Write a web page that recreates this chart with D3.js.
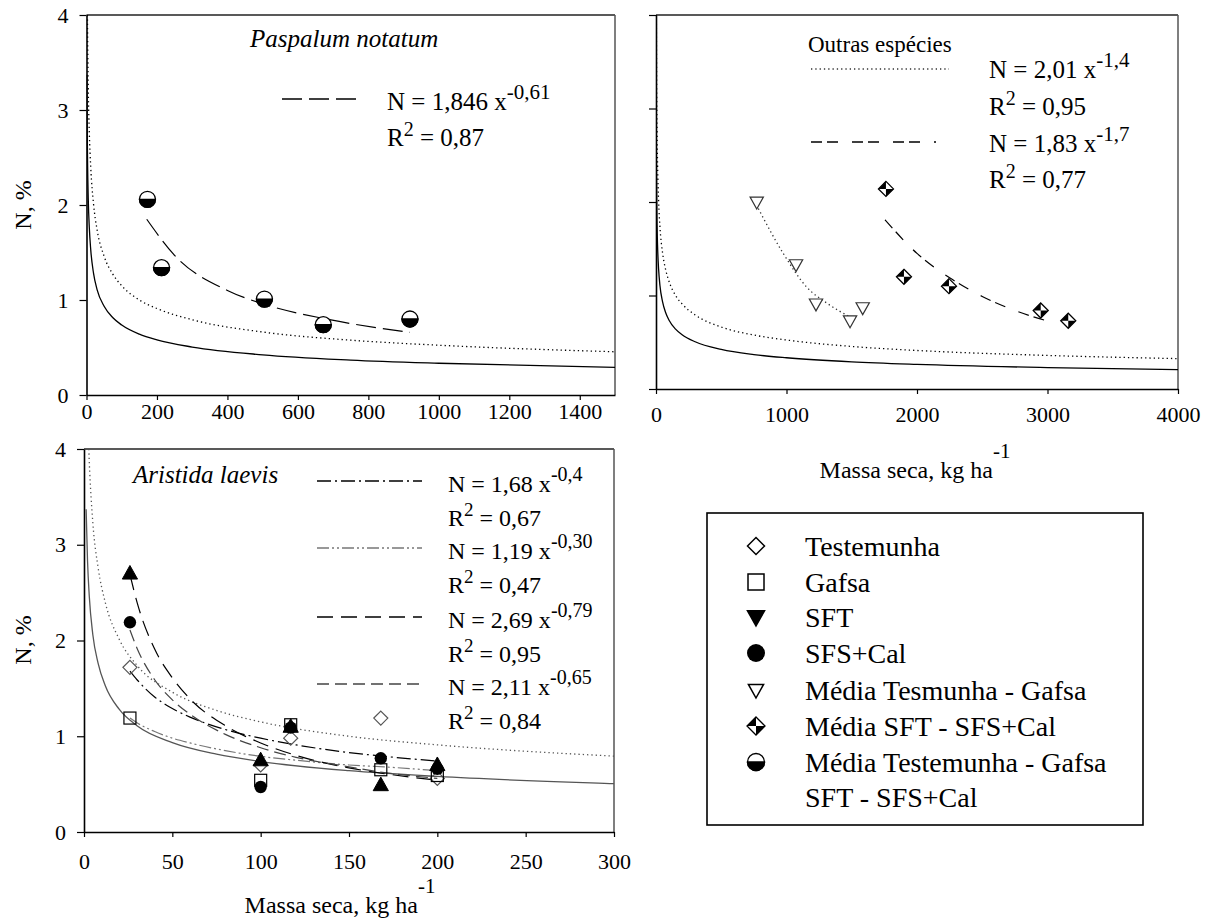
<!DOCTYPE html>
<html><head><meta charset="utf-8">
<script src="https://cdn.jsdelivr.net/npm/d3@7"></script>
<style>
body{margin:0;background:#fff;}
</style></head><body>
<svg id="c" width="1210" height="924"></svg>
<script>
// ---------- DATA ----------
const yTicks = [0, 1, 2, 3, 4];
const xTicksPaspalum = [0, 200, 400, 600, 800, 1000, 1200, 1400];
const xTicksOutras = [0, 1000, 2000, 3000, 4000];
const xTicksAristida = [0, 50, 100, 150, 200, 250, 300];

// reference curves (solid and dotted)
const refSolidX = [1.2, 2, 3, 5, 8, 12, 20, 30, 50, 75, 100, 150, 200, 300, 500, 750, 1000, 1500, 2000, 3000, 4000];
const refSolidN = [3.37, 2.83, 2.46, 2.06, 1.76, 1.53, 1.28, 1.11, 0.934, 0.813, 0.736, 0.640, 0.580, 0.505, 0.423, 0.368, 0.334, 0.290, 0.263, 0.229, 0.207];
const refDotX = [2.7, 3, 5, 8, 12, 20, 30, 50, 75, 100, 150, 200, 300, 500, 750, 1000, 1500, 2000, 3000, 4000];
const refDotN = [4.0, 3.86, 3.23, 2.76, 2.40, 2.01, 1.74, 1.46, 1.27, 1.15, 1.00, 0.91, 0.792, 0.663, 0.577, 0.524, 0.455, 0.412, 0.359, 0.325];

// Paspalum notatum
const paspalumX = [173, 213, 505, 672, 918];
const paspalumN = [2.06, 1.34, 1.01, 0.74, 0.80];
const paspalumFitX = [171, 250, 400, 500, 680, 918];
const paspalumFitN = [1.85, 1.47, 1.10, 0.96, 0.80, 0.66];

// Outras espécies
const outrasTriX = [772, 1073, 1226, 1487, 1584];
const outrasTriN = [2.00, 1.33, 0.91, 0.73, 0.87];
const outrasDiaX = [1762, 1900, 2245, 2948, 3159];
const outrasDiaN = [2.14, 1.20, 1.10, 0.84, 0.73];
const outrasFit1X = [784, 975, 1155, 1308, 1487];
const outrasFit1N = [1.93, 1.45, 1.09, 0.92, 0.77];
const outrasFit2X = [1755, 2000, 2250, 2500, 2750, 3070];
const outrasFit2N = [1.81, 1.45, 1.19, 0.99, 0.84, 0.70];

// Aristida laevis
const aristidaX = [26, 100, 117, 168, 200];
const testemunhaN = [1.72, 0.70, 0.98, 1.19, 0.56];
const gafsaN = [1.19, 0.54, 1.12, 0.65, 0.59];
const sftN = [2.70, 0.75, 1.10, 0.49, 0.70];
const sfsN = [2.19, 0.47, 1.09, 0.77, 0.66];
const aristidaFitX = [26, 30, 40, 50, 60, 80, 100, 120, 150, 170, 200];
const fitTestemunhaN = [1.68, 1.59, 1.41, 1.29, 1.20, 1.07, 0.98, 0.91, 0.83, 0.79, 0.74];
const fitGafsaN = [1.19, 1.14, 1.05, 0.98, 0.93, 0.85, 0.79, 0.75, 0.70, 0.68, 0.64];
const fitSftN = [2.69, 2.40, 1.91, 1.61, 1.39, 1.11, 0.93, 0.80, 0.67, 0.61, 0.54];
const fitSfsN = [2.11, 1.92, 1.59, 1.38, 1.23, 1.02, 0.88, 0.78, 0.68, 0.62, 0.56];

// equations
const paspalumCoef = ["1,846"], paspalumExp = ["-0,61"], paspalumR2 = ["0,87"];
const outrasCoef = ["2,01", "1,83"], outrasExp = ["-1,4", "-1,7"], outrasR2 = ["0,95", "0,77"];
const aristidaCoef = ["1,68", "1,19", "2,69", "2,11"], aristidaExp = ["-0,4", "-0,30", "-0,79", "-0,65"], aristidaR2 = ["0,67", "0,47", "0,95", "0,84"];

// legend
const legendLabels = ["Testemunha", "Gafsa", "SFT", "SFS+Cal", "Média Tesmunha - Gafsa", "Média SFT - SFS+Cal", "Média Testemunha - Gafsa"];
const legendExtra = "SFT - SFS+Cal";
const titles = ["Paspalum notatum", "Outras espécies", "Aristida laevis"];
const yTitle = "N, %";
const xTitle = "Massa seca, kg ha";

// ---------- DRAW ----------
const FONT = '"Liberation Serif"';
const svg = d3.select("#c");
const zip = (a, b) => a.map((v, i) => [v, b[i]]);
function T(sel) { return sel.style("font-family", FONT).attr("fill", "#000").style("white-space", "pre"); }

function symbol(g, type, cx, cy, s, opt = {}) {
  const gg = g.append("g").attr("transform", `translate(${cx},${cy})`);
  const sw = opt.sw || 1.2, col = opt.col || "#000";
  if (type === "diamond") {
    gg.append("path").attr("d", `M0,${-s}L${s},0L0,${s}L${-s},0Z`).attr("fill", "none").attr("stroke", col).attr("stroke-width", sw);
  } else if (type === "square") {
    gg.append("rect").attr("x", -s).attr("y", -s).attr("width", 2 * s).attr("height", 2 * s).attr("fill", "none").attr("stroke", col).attr("stroke-width", sw);
  } else if (type === "triUp") {
    gg.append("path").attr("d", `M0,${-s}L${s * 0.95},${s * 0.7}L${-s * 0.95},${s * 0.7}Z`).attr("fill", col).attr("stroke", col).attr("stroke-width", 1);
  } else if (type === "triDown") {
    gg.append("path").attr("d", `M0,${s}L${s * 0.95},${-s * 0.7}L${-s * 0.95},${-s * 0.7}Z`).attr("fill", opt.open ? "#fff" : col).attr("stroke", col).attr("stroke-width", sw);
  } else if (type === "circle") {
    gg.append("circle").attr("r", s).attr("fill", col);
  } else if (type === "halfCircle") {
    gg.append("circle").attr("r", s).attr("fill", "#fff").attr("stroke", "#000").attr("stroke-width", 1.3);
    gg.append("path").attr("d", `M${-s},0A${s},${s} 0 0 0 ${s},0Z`).attr("fill", "#000").attr("stroke", "#000").attr("stroke-width", 1.3);
  } else if (type === "halfDiamond") {
    gg.append("path").attr("d", `M0,${-s}L${s},0L0,${s}L${-s},0Z`).attr("fill", "#fff").attr("stroke", "#000").attr("stroke-width", 1.3);
    gg.append("path").attr("d", `M0,0L0,${-s}L${-s},0Z M0,0L0,${s}L${s},0Z`).attr("fill", "#000");
  }
}

function panel(cfg) {
  const x = d3.scaleLinear().domain(cfg.xd).range([cfg.x0, cfg.x1]);
  const y = d3.scaleLinear().domain([0, 4]).range([cfg.y0, cfg.y1]);
  const g = svg.append("g");
  const cid = "clip" + cfg.id;
  svg.append("clipPath").attr("id", cid).append("rect")
    .attr("x", cfg.x0).attr("y", cfg.y1).attr("width", cfg.x1 - cfg.x0).attr("height", cfg.y0 - cfg.y1);
  g.append("line").attr("x1", cfg.x0).attr("x2", cfg.x1).attr("y1", cfg.y1).attr("y2", cfg.y1).attr("stroke", "#222").attr("stroke-width", 1.3);
  g.append("line").attr("x1", cfg.x1).attr("x2", cfg.x1).attr("y1", cfg.y1).attr("y2", cfg.y0).attr("stroke", "#555").attr("stroke-width", 1.5);
  const xa = g.append("g").attr("transform", `translate(0,${cfg.y0})`)
    .call(d3.axisBottom(x).tickValues(cfg.xt).tickSize(5).tickPadding(cfg.xpad).tickSizeOuter(0).tickFormat(d3.format("d")));
  const ya = g.append("g").attr("transform", `translate(${cfg.x0},0)`)
    .call(d3.axisLeft(y).tickValues(yTicks).tickSize(7).tickPadding(11).tickSizeOuter(0).tickFormat(cfg.ylab ? d3.format("d") : ""));
  [xa, ya].forEach(a => {
    a.attr("font-family", FONT).attr("font-size", 22);
    T(a.selectAll("text")).style("font-size", "22px");
    a.selectAll("line").attr("stroke", "#000").attr("stroke-width", 1.2);
    a.select(".domain").attr("stroke", "#000").attr("stroke-width", 1.6);
  });
  const cg = g.append("g").attr("clip-path", `url(#${cid})`);
  const line = d3.line().x(d => x(d[0])).y(d => y(d[1])).curve(d3.curveMonotoneX);
  cg.append("path").attr("d", line(zip(refSolidX, refSolidN))).attr("fill", "none").attr("stroke", cfg.refCol).attr("stroke-width", 1.3);
  cg.append("path").attr("d", line(zip(refDotX, refDotN))).attr("fill", "none").attr("stroke", cfg.refCol).attr("stroke-width", 1.3).attr("stroke-dasharray", "1.3,3");
  return { g, x, y, line, cg };
}

// Panel 1: Paspalum
const p1 = panel({ id: 1, xd: [0, 1500], x0: 86.5, x1: 615, y0: 395, y1: 15, xt: xTicksPaspalum, xpad: 3, ylab: true, refCol: "#000" });
p1.cg.append("path").attr("d", p1.line(zip(paspalumFitX, paspalumFitN))).attr("fill", "none").attr("stroke", "#000").attr("stroke-width", 1.2).attr("stroke-dasharray", "20,7");
zip(paspalumX, paspalumN).forEach(d => symbol(p1.g, "halfCircle", p1.x(d[0]), p1.y(d[1]), 8));

// Panel 2: Outras
const p2 = panel({ id: 2, xd: [0, 4000], x0: 656, x1: 1178, y0: 389, y1: 15, xt: xTicksOutras, xpad: 12, ylab: false, refCol: "#000" });
p2.cg.append("path").attr("d", p2.line(zip(outrasFit1X, outrasFit1N))).attr("fill", "none").attr("stroke", "#333").attr("stroke-width", 1.3).attr("stroke-dasharray", "1.3,3");
p2.cg.append("path").attr("d", p2.line(zip(outrasFit2X, outrasFit2N))).attr("fill", "none").attr("stroke", "#000").attr("stroke-width", 1.2).attr("stroke-dasharray", "11,5,11,14");
zip(outrasTriX, outrasTriN).forEach(d => symbol(p2.g, "triDown", p2.x(d[0]), p2.y(d[1]), 7, { open: true, col: "#333" }));
zip(outrasDiaX, outrasDiaN).forEach(d => symbol(p2.g, "halfDiamond", p2.x(d[0]), p2.y(d[1]), 7.5));

// Panel 3: Aristida
const p3 = panel({ id: 3, xd: [0, 300], x0: 84, x1: 614, y0: 832, y1: 449, xt: xTicksAristida, xpad: 16, ylab: true, refCol: "#555" });
const fitStyles = [
  { n: fitTestemunhaN, col: "#000", dash: "14,4,2,4" },
  { n: fitGafsaN, col: "#777", dash: "12,3,2,3,2,3" },
  { n: fitSftN, col: "#000", dash: "16,8" },
  { n: fitSfsN, col: "#444", dash: "12,6" }
];
fitStyles.forEach(f => p3.cg.append("path").attr("d", p3.line(zip(aristidaFitX, f.n))).attr("fill", "none").attr("stroke", f.col).attr("stroke-width", 1.2).attr("stroke-dasharray", f.dash));
aristidaX.forEach((v, i) => symbol(p3.g, "diamond", p3.x(v), p3.y(testemunhaN[i]), 7, { col: "#555" }));
aristidaX.forEach((v, i) => symbol(p3.g, "triUp", p3.x(v), p3.y(sftN[i]), 8));
aristidaX.forEach((v, i) => symbol(p3.g, "circle", p3.x(v), p3.y(sfsN[i]), 6.2));
aristidaX.forEach((v, i) => symbol(p3.g, "square", p3.x(v), p3.y(gafsaN[i]), 6, { col: "#000" }));

// titles
T(svg.append("text")).attr("x", 250).attr("y", 47).style("font-size", "25px").style("font-style", "italic").text(titles[0]);
T(svg.append("text")).attr("x", 808).attr("y", 52).style("font-size", "23px").text(titles[1]);
T(svg.append("text")).attr("x", 133).attr("y", 483).style("font-size", "25px").style("font-style", "italic").text(titles[2]);

// equations
function eqText(x, yb, coef, exp, fs) {
  const t = T(svg.append("text")).attr("x", x).attr("y", yb).style("font-size", fs + "px");
  t.append("tspan").text(`N = ${coef} x`);
  t.append("tspan").attr("dy", -11).style("font-size", (fs - 4) + "px").text(exp);
}
function r2Text(x, yb, val, fs) {
  const t = T(svg.append("text")).attr("x", x).attr("y", yb).style("font-size", fs + "px");
  t.append("tspan").text("R");
  t.append("tspan").attr("dy", -10).style("font-size", (fs - 5) + "px").text("2");
  t.append("tspan").attr("dy", 10).text(` = ${val}`);
}
function keyLine(x1, x2, y, col, dash, w) {
  svg.append("line").attr("x1", x1).attr("x2", x2).attr("y1", y).attr("y2", y).attr("stroke", col).attr("stroke-width", w || 1.3).attr("stroke-dasharray", dash);
}
keyLine(282, 358, 99, "#000", "20,7");
eqText(387, 110, paspalumCoef[0], paspalumExp[0], 25);
r2Text(387, 146, paspalumR2[0], 25);
keyLine(811, 949, 69, "#333", "1.3,3");
eqText(989, 78, outrasCoef[0], outrasExp[0], 25);
r2Text(989, 115, outrasR2[0], 25);
keyLine(811, 936, 142, "#000", "11,5,11,14");
eqText(989, 152, outrasCoef[1], outrasExp[1], 25);
r2Text(989, 188, outrasR2[1], 25);
const keyY = [481, 548, 617, 684];
fitStyles.forEach((f, i) => {
  keyLine(317, 422, keyY[i], f.col, f.dash, 1.3);
  eqText(448, keyY[i] + 11, aristidaCoef[i], aristidaExp[i], 24);
  r2Text(448, keyY[i] + 45, aristidaR2[i], 24);
});

// axis titles
function xTitleText(cx, yb) {
  const t = T(svg.append("text")).attr("x", cx).attr("y", yb).attr("text-anchor", "middle").style("font-size", "24px");
  t.append("tspan").text(xTitle);
  t.append("tspan").attr("dy", -20).style("font-size", "21px").text("-1");
}
xTitleText(915, 478);
xTitleText(340, 913);
[205, 640].forEach(cy => T(svg.append("text")).attr("transform", `translate(31,${cy}) rotate(-90)`).attr("text-anchor", "middle").style("font-size", "24px").text(yTitle));

// legend
svg.append("rect").attr("x", 707).attr("y", 513).attr("width", 436).attr("height", 312).attr("fill", "none").attr("stroke", "#000").attr("stroke-width", 1.6);
const legY = [546, 582, 617, 653, 690, 726, 762];
const legSym = [["diamond", 8.5, {}], ["square", 8, {}], ["triDown", 9, {}], ["circle", 9, {}], ["triDown", 8, { open: true }], ["halfDiamond", 9, {}], ["halfCircle", 8.5, {}]];
legendLabels.forEach((lab, i) => {
  symbol(svg, legSym[i][0], 756, legY[i], legSym[i][1], Object.assign({ sw: 1.5 }, legSym[i][2]));
  T(svg.append("text")).attr("x", 805).attr("y", legY[i] + 10).style("font-size", "28px").text(lab);
});
T(svg.append("text")).attr("x", 805).attr("y", 807).style("font-size", "28px").text(legendExtra);
</script>
</body></html>
